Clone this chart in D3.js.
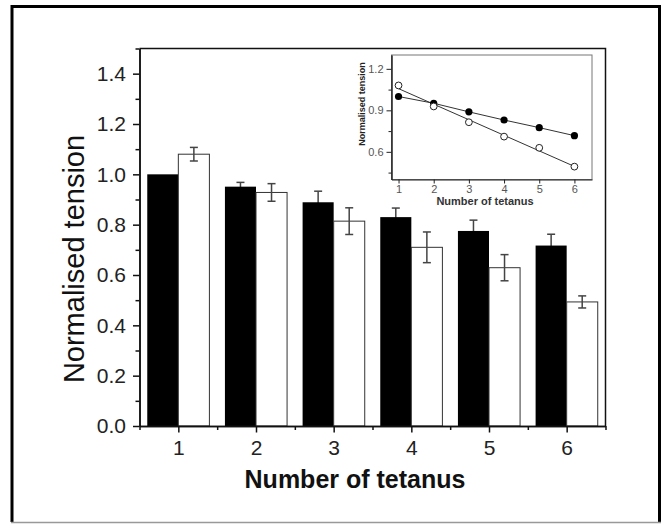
<!DOCTYPE html>
<html>
<head>
<meta charset="utf-8">
<script src="https://cdn.jsdelivr.net/npm/d3@7"></script>
<style>
  body { margin: 0; background: #fff; }
  svg { display: block; font-family: Arial, "Liberation Sans", sans-serif; }
</style>
</head>
<body>
<div id="chart"></div>
<script>
// tetanus number on the x axis
const tetanus = [1, 2, 3, 4, 5, 6]
// black bars / filled circles
const controlMean = [1.0, 0.951, 0.889, 0.830, 0.775, 0.717]
const controlErr = [0, 0.017, 0.044, 0.036, 0.043, 0.045]
// white bars / open circles
const treatedMean = [1.080, 0.928, 0.814, 0.710, 0.629, 0.493]
const treatedErr = [0.027, 0.035, 0.053, 0.061, 0.052, 0.024]

const yTicks = [0, 0.2, 0.4, 0.6, 0.8, 1.0, 1.2, 1.4]
const insetYTicks = [0.6, 0.9, 1.2]

const width = 661, height = 524

const svg = d3.select('#chart').append('svg')
  .attr('width', width)
  .attr('height', height)

// outer frame
svg.append('path')
  .attr('d', 'M12,522 L12,6.5 L659.5,6.5 L659.5,522')
  .attr('fill', 'none').attr('stroke', '#000').attr('stroke-width', 3)
svg.append('line')
  .attr('x1', 11).attr('x2', 661).attr('y1', 522.5).attr('y2', 522.5)
  .attr('stroke', '#999').attr('stroke-width', 1.5)

// ---------- main bar chart ----------
const x = d3.scaleLinear().domain([0.5, 6.5]).range([139.5, 605.5])
const y = d3.scaleLinear().domain([0, 1.5]).range([426, 48.5])
const barW = 0.4

const rows = tetanus.map((t, i) => ({
  t, c: controlMean[i], ce: controlErr[i], w: treatedMean[i], we: treatedErr[i]
}))

const main = svg.append('g')

// error bars for black bars go underneath them, only the upper half shows
const errBar = (g, cx, mean, err) => {
  if (!err) return
  const half = 4
  g.append('line').attr('x1', cx).attr('x2', cx).attr('y1', y(mean - err)).attr('y2', y(mean + err))
  g.append('line').attr('x1', cx - half).attr('x2', cx + half).attr('y1', y(mean + err)).attr('y2', y(mean + err))
  g.append('line').attr('x1', cx - half).attr('x2', cx + half).attr('y1', y(mean - err)).attr('y2', y(mean - err))
}

const errG1 = main.append('g').attr('stroke', '#444').attr('stroke-width', 1.5)
rows.forEach(d => errBar(errG1, x(d.t - barW / 2), d.c, d.ce))

main.selectAll('.bar-black')
  .data(rows)
  .join('rect')
  .attr('class', 'bar-black')
  .attr('x', d => x(d.t - barW))
  .attr('width', d => x(d.t) - x(d.t - barW))
  .attr('y', d => y(d.c))
  .attr('height', d => y(0) - y(d.c))
  .attr('fill', '#000')

main.selectAll('.bar-white')
  .data(rows)
  .join('rect')
  .attr('class', 'bar-white')
  .attr('x', d => x(d.t))
  .attr('width', d => x(d.t + barW) - x(d.t))
  .attr('y', d => y(d.w))
  .attr('height', d => y(0) - y(d.w))
  .attr('fill', '#fff')
  .attr('stroke', '#333')
  .attr('stroke-width', 1)

const errG2 = main.append('g').attr('stroke', '#444').attr('stroke-width', 1.5)
rows.forEach(d => errBar(errG2, x(d.t + barW / 2), d.w, d.we))

// box top / right
main.append('path')
  .attr('d', `M${x(0.5)},${y(1.5)} L${x(6.5)},${y(1.5)} L${x(6.5)},${y(0)}`)
  .attr('fill', 'none').attr('stroke', '#111').attr('stroke-width', 1.5)

// axes
const yMinor = d3.range(1, 16).map(i => i / 10).filter(v => Math.round(v * 10) % 2 === 1)
const xMinor = d3.range(0, 7).map(i => i + 0.5)

const yAxisMinor = main.append('g')
  .attr('transform', `translate(${x(0.5)},0)`)
  .call(d3.axisLeft(y).tickValues(yMinor).tickSize(4).tickSizeOuter(0).tickFormat(''))
const yAxis = main.append('g')
  .attr('transform', `translate(${x(0.5)},0)`)
  .call(d3.axisLeft(y).tickValues(yTicks).tickSize(6.5).tickSizeOuter(0).tickPadding(7)
    .tickFormat(d3.format('.1f')))
const xAxisMinor = main.append('g')
  .attr('transform', `translate(0,${y(0)})`)
  .call(d3.axisBottom(x).tickValues(xMinor).tickSize(4).tickSizeOuter(0).tickFormat(''))
const xAxis = main.append('g')
  .attr('transform', `translate(0,${y(0)})`)
  .call(d3.axisBottom(x).tickValues(tetanus).tickSize(6.5).tickSizeOuter(0).tickPadding(8)
    .tickFormat(d3.format('d')))

;[yAxisMinor, yAxis, xAxisMinor, xAxis].forEach(a => {
  a.selectAll('path, line').attr('stroke', '#111').attr('stroke-width', 1.5)
  a.selectAll('text').attr('fill', '#222').style('font-size', '21px')
    .style('font-family', 'Arial, "Liberation Sans", sans-serif')
})

main.append('text')
  .attr('x', 355).attr('y', 488)
  .attr('text-anchor', 'middle')
  .style('font-size', '25px').style('font-weight', 'bold')
  .attr('fill', '#111')
  .text('Number of tetanus')

main.append('text')
  .attr('transform', `translate(84,259) rotate(-90)`)
  .attr('text-anchor', 'middle')
  .style('font-size', '29px')
  .attr('fill', '#111')
  .text('Normalised tension')

// ---------- inset line chart ----------
const xi = d3.scaleLinear().domain([0.8, 6.5]).range([391.5, 592])
const yi = d3.scaleLinear().domain([0.4, 1.3]).range([179.5, 55])
const inset = svg.append('g')

inset.append('rect')
  .attr('x', xi(0.8)).attr('y', yi(1.3))
  .attr('width', xi(6.5) - xi(0.8)).attr('height', yi(0.4) - yi(1.3))
  .attr('fill', '#fff').attr('stroke', '#777').attr('stroke-width', 1)

const iyMinor = inset.append('g')
  .attr('transform', `translate(${xi(0.8)},0)`)
  .call(d3.axisLeft(yi).tickValues([0.45, 0.75, 1.05]).tickSize(3).tickSizeOuter(0).tickFormat(''))
const iyAxis = inset.append('g')
  .attr('transform', `translate(${xi(0.8)},0)`)
  .call(d3.axisLeft(yi).tickValues(insetYTicks).tickSize(5).tickSizeOuter(0).tickPadding(3)
    .tickFormat(d3.format('.1f')))
const ixAxis = inset.append('g')
  .attr('transform', `translate(0,${yi(0.4)})`)
  .call(d3.axisBottom(xi).tickValues(tetanus).tickSize(4).tickSizeOuter(0).tickPadding(2)
    .tickFormat(d3.format('d')))

;[iyMinor, iyAxis, ixAxis].forEach(a => {
  a.selectAll('path, line').attr('stroke', '#222').attr('stroke-width', 1)
  a.selectAll('text').attr('fill', '#555').style('font-size', '11px')
    .style('font-family', 'Arial, "Liberation Sans", sans-serif')
})

// filled series: polyline through points
const line = d3.line().x(d => xi(d[0])).y(d => yi(d[1]))
inset.append('path')
  .datum(tetanus.map((t, i) => [t, controlMean[i]]))
  .attr('d', line)
  .attr('fill', 'none').attr('stroke', '#333').attr('stroke-width', 1)

// open series: least-squares line
const mx = d3.mean(tetanus), my = d3.mean(treatedMean)
const slope = d3.sum(tetanus, (t, i) => (t - mx) * (treatedMean[i] - my)) /
  d3.sum(tetanus, t => (t - mx) ** 2)
const fit = t => my + slope * (t - mx)
inset.append('path')
  .datum([1, 6].map(t => [t, fit(t)]))
  .attr('d', line)
  .attr('fill', 'none').attr('stroke', '#333').attr('stroke-width', 1)

inset.selectAll('.pt-filled')
  .data(tetanus.map((t, i) => [t, controlMean[i]]))
  .join('circle')
  .attr('class', 'pt-filled')
  .attr('cx', d => xi(d[0])).attr('cy', d => yi(d[1]))
  .attr('r', 3.6)
  .attr('fill', '#000')

inset.selectAll('.pt-open')
  .data(tetanus.map((t, i) => [t, treatedMean[i]]))
  .join('circle')
  .attr('class', 'pt-open')
  .attr('cx', d => xi(d[0])).attr('cy', d => yi(d[1]))
  .attr('r', 3.4)
  .attr('fill', '#fff').attr('stroke', '#222').attr('stroke-width', 1)

inset.append('text')
  .attr('x', 485).attr('y', 205)
  .attr('text-anchor', 'middle')
  .style('font-size', '11px').style('font-weight', 'bold')
  .attr('fill', '#333')
  .text('Number of tetanus')

inset.append('text')
  .attr('transform', `translate(364.5,104) rotate(-90)`)
  .attr('text-anchor', 'middle')
  .style('font-size', '9px').style('font-weight', 'bold')
  .attr('fill', '#222')
  .text('Normalised tension')
</script>
</body>
</html>
